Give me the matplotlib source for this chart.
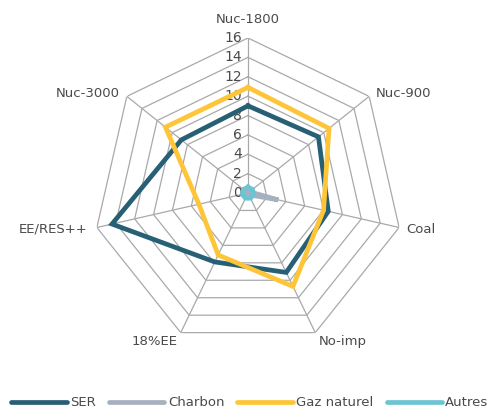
import numpy as np
import matplotlib.pyplot as plt
from matplotlib.lines import Line2D

# scenario axes, clockwise from the top
categories = ["Nuc-1800", "Nuc-900", "Coal", "No-imp", "18%EE", "EE/RES++", "Nuc-3000"]

ser = [9.0, 9.3, 8.5, 9.1, 7.9, 14.4, 8.8]
charbon = [0.2, 0.2, 3.2, 0.2, 0.2, 0.2, 0.2]
gaz_naturel = [10.9, 10.7, 8.0, 10.7, 7.1, 5.2, 10.9]
autres = [0.6, 0.6, 0.6, 0.6, 0.6, 0.6, 0.6]

series_names = ["SER", "Charbon", "Gaz naturel", "Autres"]
series_values = [ser, charbon, gaz_naturel, autres]
series_colors = ["#275f74", "#a6b1bf", "#fdc537", "#6cc4d2"]

levels = np.arange(0, 17, 2)
text_color = "#4a4a4a"
grid_color = "#a9a9a9"

plt.rcParams["font.family"] = ["DejaVu Sans"]

fig = plt.figure(figsize=(4.97, 4.12), dpi=100)
W, H = 497, 412
cx, cy, R = 248, 193, 155
ax = fig.add_axes([(cx - R) / W, (H - cy - R) / H, 2 * R / W, 2 * R / H],
                  projection="polar")
ax.set_theta_offset(np.pi / 2)
ax.set_theta_direction(-1)
ax.set_ylim(0, 16)
ax.axis("off")

n = len(categories)
theta = np.linspace(0, 2 * np.pi, n, endpoint=False)
theta_closed = np.append(theta, theta[0])

# polygonal grid rings and spokes
for lv in levels[1:]:
    ax.plot(theta_closed, [lv] * (n + 1), color=grid_color, lw=0.9, zorder=1)
for t in theta:
    ax.plot([t, t], [0, levels[-1]], color=grid_color, lw=0.9, zorder=1)

# radial scale along the top spoke
for lv in levels:
    ax.annotate(str(lv), xy=(0, lv), xytext=(-6, 0), textcoords="offset pixels",
                ha="right", va="center", fontsize=10, color=text_color,
                zorder=2)

# category labels around the outer ring
label_offsets = [(0, 12), (7, 3), (7, -2), (3, -2), (-3, -2), (-9, -2), (-7, 3)]
label_align = [("center", "bottom"), ("left", "center"), ("left", "center"),
               ("left", "top"), ("right", "top"), ("right", "center"),
               ("right", "center")]
for t, name, off, (ha, va) in zip(theta, categories, label_offsets, label_align):
    ax.annotate(name, xy=(t, levels[-1]), xytext=off, textcoords="offset pixels",
                ha=ha, va=va, fontsize=9.5, color=text_color,
                annotation_clip=False)

for i, (name, vals, col) in enumerate(zip(series_names, series_values, series_colors)):
    v = np.append(vals, vals[0])
    ax.plot(theta_closed, v, color=col, lw=3.4, solid_joinstyle="miter",
            zorder=3 + i, label=name)

handles = [Line2D([], [], color=c, lw=3.4, solid_capstyle="round")
           for c in series_colors]
fig.legend(handles, series_names, loc="center", bbox_to_anchor=(0.503, 1 - 403 / H),
           ncol=4, frameon=False, handlelength=4.2, handletextpad=0.25,
           columnspacing=1.0, fontsize=9.5, labelcolor=text_color)

fig.savefig("out.png", dpi=100)
